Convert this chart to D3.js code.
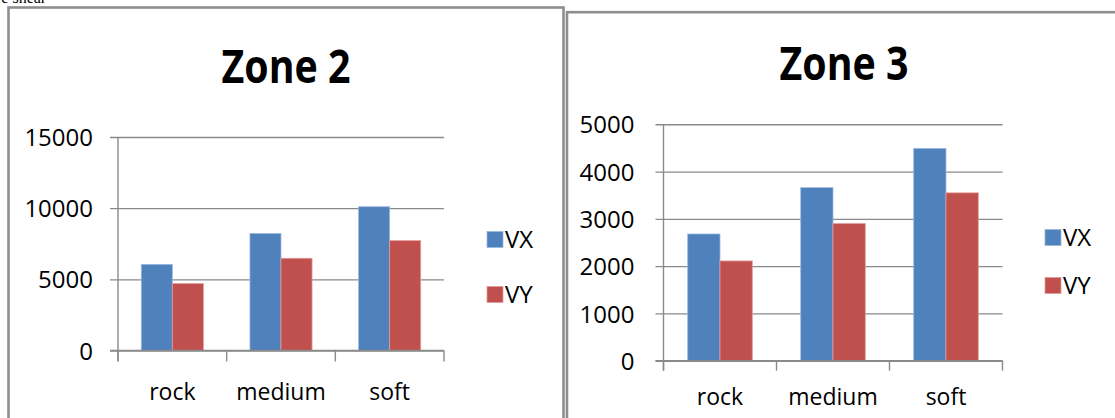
<!DOCTYPE html>
<html>
<head>
<meta charset="utf-8">
<script src="https://cdn.jsdelivr.net/npm/d3@7"></script>
<style>
  html, body { margin: 0; padding: 0; background: #ffffff; }
  svg { display: block; }
  text { font-family: "Open Sans", "Noto Sans", sans-serif; fill: #000; }
</style>
</head>
<body>
<svg id="chart" width="1115" height="418"></svg>
<script>
// Soil categories and the two velocity components per zone
const categories = ["rock", "medium", "soft"];
const seriesNames = ["VX", "VY"];
const zone2VX = [6050, 8220, 10100];
const zone2VY = [4700, 6480, 7720];
const zone3VX = [2680, 3660, 4490];
const zone3VY = [2110, 2900, 3550];
const zone2Ticks = [0, 5000, 10000, 15000];
const zone3Ticks = [0, 1000, 2000, 3000, 4000, 5000];
const seriesColors = ["#4f81bd", "#c0504d"];
const seriesEdges = ["#9bb9de", "#e39c9a"];

const svg = d3.select("#chart");

// fragment of the caption line above the figures
svg.append("text")
  .attr("x", -4).attr("y", 3)
  .style("font-family", "'Liberation Serif', serif")
  .style("font-size", "16px")
  .text("re shear");

// panel frames
const frameColor = "#8e8e8e";
svg.append("rect")
  .attr("x", 8.5).attr("y", 7.5).attr("width", 555).attr("height", 440)
  .attr("fill", "none").attr("stroke", frameColor).attr("stroke-width", 2.6);
svg.append("rect")
  .attr("x", 567).attr("y", 12.2).attr("width", 600).attr("height", 440)
  .attr("fill", "none").attr("stroke", frameColor).attr("stroke-width", 2.6);

function drawPanel(cfg) {
  const g = svg.append("g");
  const values = [cfg.vx, cfg.vy];
  const data = categories.map((c, i) => ({ cat: c, vals: seriesNames.map((s, j) => ({ s, j, v: values[j][i] })) }));

  const x = d3.scaleBand().domain(categories)
    .range([cfg.x0, cfg.x1]).paddingInner(3 / 7).paddingOuter(3 / 14);
  const xs = d3.scaleBand().domain(seriesNames).range([0, x.bandwidth()]);
  const y = d3.scaleLinear().domain([0, d3.max(cfg.ticks)]).range([cfg.y0, cfg.yTop]);
  const plotW = cfg.x1 - cfg.x0;

  // horizontal gridlines + left ticks
  const yAxis = g.append("g")
    .attr("transform", `translate(${cfg.x0},0)`)
    .call(d3.axisLeft(y).tickValues(cfg.ticks).tickSizeInner(-plotW).tickSizeOuter(0).tickFormat(d3.format("d")));
  yAxis.select(".domain").remove();
  yAxis.selectAll(".tick line")
    .attr("x1", -8).attr("x2", plotW)
    .attr("stroke", "#8a8a8a").attr("stroke-width", 1.4);
  yAxis.selectAll(".tick text")
    .attr("x", -cfg.labelGap).attr("dy", "0.36em")
    .style("font-size", "24px").style("font-family", "'Open Sans', sans-serif")
    .attr("fill", "#000");

  // bars
  const groups = g.selectAll(".grp").data(data).join("g")
    .attr("transform", d => `translate(${x(d.cat)},0)`);
  groups.selectAll("rect").data(d => d.vals).join("rect")
    .attr("x", d => xs(d.s))
    .attr("y", d => y(d.v))
    .attr("width", xs.bandwidth())
    .attr("height", d => y(0) - y(d.v))
    .attr("fill", d => seriesColors[d.j])
    .attr("stroke", d => seriesEdges[d.j])
    .attr("stroke-width", 0.8);

  // vertical axis line and category axis
  g.append("line")
    .attr("x1", cfg.x0).attr("x2", cfg.x0)
    .attr("y1", cfg.yTop).attr("y2", cfg.y0 + cfg.tickDown)
    .attr("stroke", "#8a8a8a").attr("stroke-width", 1.4);
  const bandStep = x.step();
  const bounds = d3.range(categories.length + 1).map(i => cfg.x0 + i * bandStep);
  g.append("line")
    .attr("x1", cfg.x0 - 8).attr("x2", cfg.x1)
    .attr("y1", cfg.y0).attr("y2", cfg.y0)
    .attr("stroke", "#8a8a8a").attr("stroke-width", 1.4);
  g.selectAll(".xtick").data(bounds).join("line")
    .attr("x1", d => d).attr("x2", d => d)
    .attr("y1", cfg.y0).attr("y2", cfg.y0 + cfg.tickDown)
    .attr("stroke", "#8a8a8a").attr("stroke-width", 1.4);
  g.selectAll(".xlabel").data(categories).join("text")
    .attr("x", d => x(d) + x.bandwidth() / 2)
    .attr("y", cfg.xLabelY)
    .attr("text-anchor", "middle")
    .style("font-size", "23px")
    .text(d => d);

  // title
  g.append("text")
    .attr("x", cfg.titleX).attr("y", cfg.titleY)
    .attr("text-anchor", "middle")
    .attr("textLength", 129).attr("lengthAdjust", "spacingAndGlyphs")
    .style("font-size", "47px").style("font-weight", "700")
    .text(cfg.title);

  // legend
  seriesNames.forEach((s, j) => {
    const ly = cfg.legendY[j];
    g.append("rect")
      .attr("x", cfg.legendX).attr("y", ly - 16)
      .attr("width", 16).attr("height", 16)
      .attr("fill", seriesColors[j])
      .attr("stroke", seriesEdges[j]).attr("stroke-width", 0.8);
    g.append("text")
      .attr("x", cfg.legendX + 18).attr("y", ly)
      .style("font-size", "24px")
      .text(s);
  });
}

drawPanel({
  title: "Zone 2", titleX: 286, titleY: 83,
  vx: zone2VX, vy: zone2VY, ticks: zone2Ticks,
  x0: 118, x1: 444, y0: 350.5, yTop: 137,
  labelGap: 25, tickDown: 11, xLabelY: 400,
  legendX: 487, legendY: [247.5, 302.5]
});

drawPanel({
  title: "Zone 3", titleX: 844, titleY: 80,
  vx: zone3VX, vy: zone3VY, ticks: zone3Ticks,
  x0: 663.5, x1: 1002.5, y0: 360.7, yTop: 124.3,
  labelGap: 29, tickDown: 10, xLabelY: 405,
  legendX: 1045, legendY: [245.5, 293.5]
});
</script>
</body>
</html>
